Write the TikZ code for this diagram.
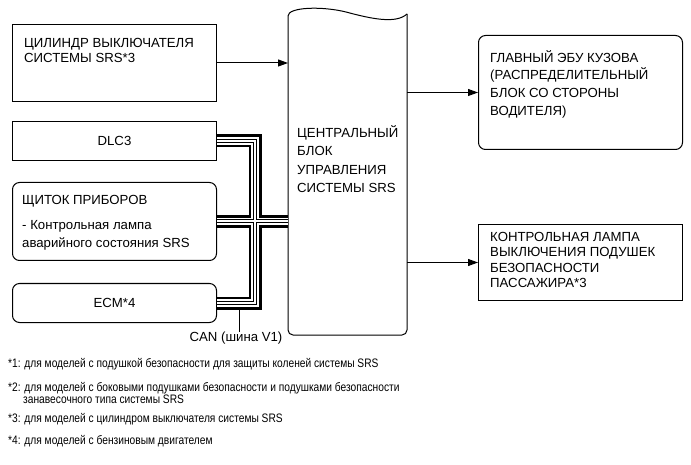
\documentclass[tikz,border=0pt]{standalone}
\usepackage{fontspec}
\setmainfont{Liberation Sans}
\newfontfamily\notefont[FakeStretch=0.83]{Liberation Sans}
\usetikzlibrary{arrows.meta}
\begin{document}
\begin{tikzpicture}[x=1pt,y=-1pt,
  box/.style={draw,line width=1pt,anchor=north west,inner sep=0pt,font=\fontsize{13.2}{15}\selectfont},
  rbox/.style={box,rounded corners=7pt},
  txt/.style={anchor=north west,align=left,inner sep=0pt},
  arr/.style={line width=1pt,-{Triangle[length=10pt,width=7pt]}},
  note/.style={anchor=north west,align=left,inner sep=0pt,font=\notefont\fontsize{12.3}{12.5}\selectfont}]
\useasboundingbox (0,0) rectangle (691,465);

% boxes
\node[box,minimum width=204pt,minimum height=77pt] (cyl) at (12,24) {};
\node[box,minimum width=204pt,minimum height=39pt] (dlc) at (12,121) {DLC3};
\node[rbox,minimum width=204pt,minimum height=78pt] (ipc) at (12,182) {};
\node[rbox,minimum width=204pt,minimum height=39pt] (ecm) at (12,283) {ECM*4};
\node[rbox,minimum width=204pt,minimum height=114pt] (bcm) at (478,35) {};
\node[box,minimum width=204pt,minimum height=76pt] (lamp) at (478,224) {};
\node[anchor=north west,minimum width=119pt,minimum height=320pt,inner sep=0pt] (ecu) at (288,15) {};

% box texts
\node[txt,font=\fontsize{13.2}{15}\selectfont] (cylt) at (24,38) {ЦИЛИНДР ВЫКЛЮЧАТЕЛЯ\\СИСТЕМЫ SRS*3};
\node[txt,font=\fontsize{13.2}{18}\selectfont] (ipct) at (22,195) {ЩИТОК ПРИБОРОВ\\[7pt]- Контрольная лампа\\аварийного состояния SRS};
\node[txt,font=\fontsize{13.2}{18.5}\selectfont] (ecut) at (297,125) {ЦЕНТРАЛЬНЫЙ\\БЛОК\\УПРАВЛЕНИЯ\\СИСТЕМЫ SRS};
\node[txt,font=\fontsize{13.2}{17.7}\selectfont] (bcmt) at (490,50) {ГЛАВНЫЙ ЭБУ КУЗОВА\\(РАСПРЕДЕЛИТЕЛЬНЫЙ\\БЛОК СО СТОРОНЫ\\ВОДИТЕЛЯ)};
\node[txt,font=\fontsize{13.2}{15.5}\selectfont] (lampt) at (490,232) {КОНТРОЛЬНАЯ ЛАМПА\\ВЫКЛЮЧЕНИЯ ПОДУШЕК\\БЕЗОПАСНОСТИ\\ПАССАЖИРА*3};

% central unit outline
\draw[line width=1pt] (288,16) .. controls (288,7) and (322,6) .. (346,12) .. controls (372,19) and (396,24) .. (407,14);
\draw[line width=1pt,rounded corners=5pt] (407,14) -- (407,335) -- (288,335) -- (288,16);

% arrows
\draw[arr] (cyl.east) -- (cyl.east -| ecu.west);
\draw[arr] (ecu.east |- bcm.west) -- (bcm.west);
\draw[arr] (ecu.east |- lamp.west) -- (lamp.west);

% CAN bus
\coordinate (bx) at (255,0);
\foreach \w/\c in {13/black,7.5/white,4/black,2/white}{
  \draw[line width=\w pt,\c,line join=miter] (dlc.east) -- (dlc.east -| bx) -- (ecm.east -| bx) -- (ecm.east);
  \draw[line width=\w pt,\c] (ipc.east) -- (ipc.east -| ecu.west);
}
\coordinate (stubtop) at (239,309);
\node[inner sep=0pt,font=\fontsize{13.2}{15}\selectfont,anchor=north] (can) at (236,332) {CAN (шина V1)};
\draw[line width=0.8pt] (stubtop) -- (stubtop |- can.north);

% footnotes
\node[note] (n1) at (8,358) {*1: для моделей с подушкой безопасности для защиты коленей системы SRS};
\node[note] (n2) at (8,382) {*2: для моделей с боковыми подушками безопасности и подушками безопасности\\\hspace*{15pt}занавесочного типа системы SRS};
\node[note] (n3) at (8,413) {*3: для моделей с цилиндром выключателя системы SRS};
\node[note] (n4) at (8,435) {*4: для моделей с бензиновым двигателем};
\end{tikzpicture}
\end{document}
